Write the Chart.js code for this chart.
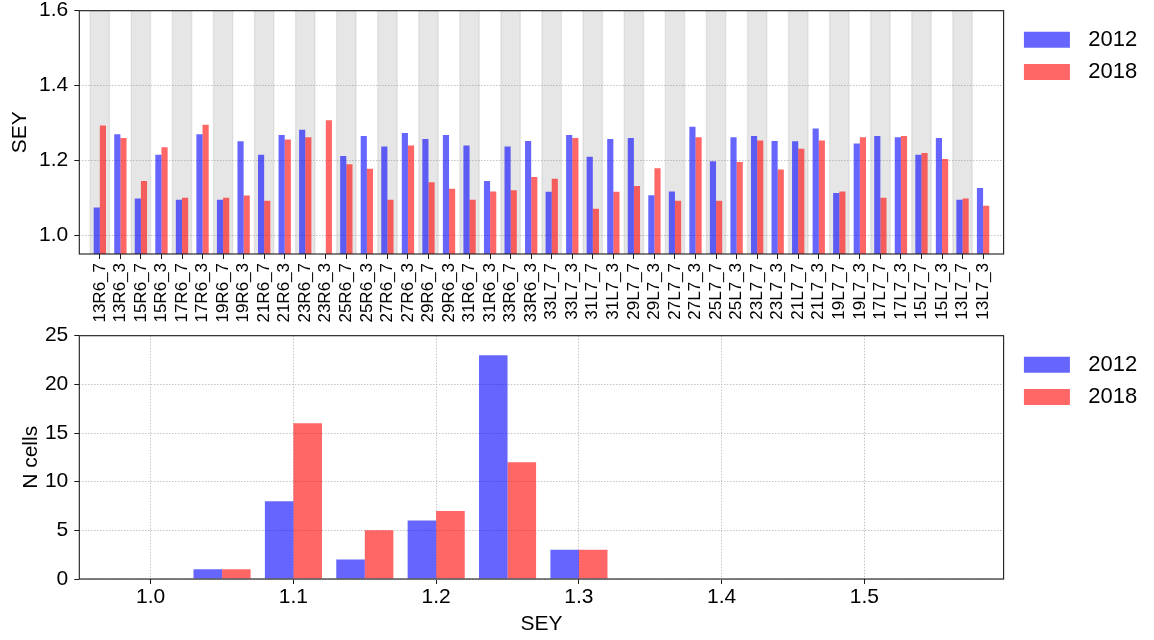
<!DOCTYPE html>
<html>
<head>
<meta charset="utf-8">
<script src="https://cdn.jsdelivr.net/npm/chart.js@4.4.1/dist/chart.umd.min.js"></script>
<style>
  html, body { margin: 0; padding: 0; background: #ffffff; }
  #wrap { position: relative; width: 1154px; height: 640px; overflow: hidden; }
  canvas { position: absolute; left: 0; }
  #sectorChart { top: 0; }
  #histChart { top: 315px; }
</style>
</head>
<body>
<div id="wrap">
  <canvas id="sectorChart" width="1154" height="335"></canvas>
  <canvas id="histChart" width="1154" height="325"></canvas>
</div>
<script>
// ---- data ----
const sectors = [
  '13R6_7', '13R6_3', '15R6_7', '15R6_3', '17R6_7', '17R6_3', '19R6_7', '19R6_3',
  '21R6_7', '21R6_3', '23R6_7', '23R6_3', '25R6_7', '25R6_3', '27R6_7', '27R6_3',
  '29R6_7', '29R6_3', '31R6_7', '31R6_3', '33R6_7', '33R6_3', '33L7_7', '33L7_3',
  '31L7_7', '31L7_3', '29L7_7', '29L7_3', '27L7_7', '27L7_3', '25L7_7', '25L7_3',
  '23L7_7', '23L7_3', '21L7_7', '21L7_3', '19L7_7', '19L7_3', '17L7_7', '17L7_3',
  '15L7_7', '15L7_3', '13L7_7', '13L7_3'
];

const sey2012 = [
  1.074, 1.270, 1.098, 1.215, 1.095, 1.270, 1.095, 1.251,
  1.215, 1.268, 1.282, null,  1.212, 1.265, 1.237, 1.273,
  1.257, 1.268, 1.240, 1.145, 1.237, 1.252, 1.116, 1.268,
  1.210, 1.257, 1.260, 1.107, 1.117, 1.290, 1.198, 1.262,
  1.265, 1.252, 1.251, 1.285, 1.113, 1.245, 1.265, 1.262,
  1.215, 1.260, 1.095, 1.126
];

const sey2018 = [
  1.293, 1.260, 1.145, 1.235, 1.100, 1.295, 1.100, 1.106,
  1.092, 1.256, 1.262, 1.307, 1.190, 1.178, 1.095, 1.240,
  1.142, 1.124, 1.095, 1.117, 1.120, 1.156, 1.151, 1.260,
  1.071, 1.116, 1.132, 1.179, 1.092, 1.262, 1.092, 1.196,
  1.253, 1.176, 1.231, 1.253, 1.117, 1.262, 1.100, 1.265,
  1.220, 1.204, 1.098, 1.079
];

const seyRange = [0.95, 1.6];
const seyTicks = [1.0, 1.2, 1.4, 1.6];

const binCenters = [1.05, 1.10, 1.15, 1.20, 1.25, 1.30];
const count2012 = [1, 8, 2, 6, 23, 3];
const count2018 = [1, 16, 5, 7, 12, 3];
const histSeyTicks = [1.0, 1.1, 1.2, 1.3, 1.4, 1.5];

// ---- styling ----
const BLUE = 'rgba(0, 0, 255, 0.6)';
const RED = 'rgba(255, 0, 0, 0.6)';
const SHADE = 'rgba(128, 128, 128, 0.2)';
const GRID = '#c4c4c4';
const INK = '#1a1a1a';
const TEXT_SIZE = 21;

Chart.defaults.font.family = "'Liberation Sans', Arial, Helvetica, sans-serif";
Chart.defaults.font.size = TEXT_SIZE;
Chart.defaults.color = '#000000';
Chart.defaults.animation = false;

// closed box around the plotting area
const axesFrame = {
  id: 'axesFrame',
  afterDatasetsDraw(chart) {
    const { ctx, chartArea: a } = chart;
    ctx.save();
    ctx.strokeStyle = INK;
    ctx.lineWidth = 1.1;
    ctx.strokeRect(a.left, a.top, a.right - a.left, a.bottom - a.top);
    ctx.restore();
  }
};

// narrow gap between the plot box and the legend
const legendGap = () => ({
  type: 'linear', axis: 'y', position: 'right', display: true,
  grid: { display: false }, border: { display: false }, ticks: { display: false },
  afterFit: s => { s.width = 10; }
});

const legendOptions = () => ({
  position: 'right',
  align: 'start',
  title: { display: true, text: '', font: { size: 1, lineHeight: 1 }, padding: { top: 0, bottom: 6.7 } },
  labels: {
    boxWidth: 46,
    boxHeight: 16,
    padding: 10.3,
    color: '#000',
    font: { size: 22 },
    generateLabels: chart => Chart.defaults.plugins.legend.labels.generateLabels(chart)
      .map(item => Object.assign(item, { text: '\u2004' + item.text, lineWidth: 0 })),
    filter: item => item.datasetIndex < 2
  }
});

const tickMarks = { tickLength: 5, tickColor: INK, tickWidth: 1 };

// ---- SEY per sector ----
new Chart(document.getElementById('sectorChart'), {
  type: 'bar',
  data: {
    datasets: [
      {
        label: '2012',
        data: sectors.map((s, i) => ({ x: i, y: sey2012[i] })),
        backgroundColor: BLUE, borderWidth: 0,
        categoryPercentage: 0.6, barPercentage: 1.0,
        order: 0, xAxisID: 'x', yAxisID: 'y'
      },
      {
        label: '2018',
        data: sectors.map((s, i) => ({ x: i, y: sey2018[i] })),
        backgroundColor: RED, borderWidth: 0,
        categoryPercentage: 0.6, barPercentage: 1.0,
        order: 0, xAxisID: 'x', yAxisID: 'y'
      },
      {
        label: 'shade',
        data: sectors.map((s, i) => ({ x: i, y: seyRange.slice() })).filter((d, i) => i % 2 === 0),
        backgroundColor: SHADE,
        borderColor: 'rgba(110, 110, 110, 0.14)',
        borderWidth: { left: 1, right: 1, top: 0, bottom: 0 },
        borderSkipped: false,
        grouped: false,
        categoryPercentage: 1.0, barPercentage: 1.0,
        order: 1, xAxisID: 'x', yAxisID: 'y'
      }
    ]
  },
  options: {
    responsive: false,
    animation: false,
    events: [],
    layout: { padding: { top: 10.7, right: 6.8, bottom: 0, left: 0 } },
    scales: {
      x: {
        type: 'linear', min: -1, max: sectors.length, offset: false,
        afterBuildTicks: s => { s.ticks = sectors.map((_, i) => ({ value: i })); },
        afterFit: s => { s.height = 81; },
        grid: Object.assign({ display: true, offset: false, drawOnChartArea: false, drawTicks: true }, tickMarks),
        border: { display: false },
        ticks: {
          autoSkip: false, minRotation: 90, maxRotation: 90, padding: 4,
          font: { size: 17 },
          callback: v => sectors[v]
        }
      },
      y: {
        type: 'linear', min: seyRange[0], max: seyRange[1],
        afterBuildTicks: s => { s.ticks = seyTicks.map(v => ({ value: v })); },
        afterFit: s => { s.width = 79.3; },
        grid: Object.assign({ color: GRID, lineWidth: 1, drawTicks: true, borderDash: [1.5, 1.5] }, tickMarks),
        border: { display: false, dash: [1.5, 1.5] },
        ticks: { padding: 6, font: { size: TEXT_SIZE, lineHeight: 0.2 }, callback: v => v.toFixed(1) },
        title: { display: true, text: 'SEY', font: { size: TEXT_SIZE }, padding: { top: 7.4, bottom: 0 } }
      },
      gap: legendGap()
    },
    plugins: {
      legend: legendOptions(),
      tooltip: { enabled: false }
    }
  },
  plugins: [axesFrame]
});

// ---- histogram of SEY ----
new Chart(document.getElementById('histChart'), {
  type: 'bar',
  data: {
    datasets: [
      {
        label: '2012',
        data: binCenters.map((c, i) => ({ x: c, y: count2012[i] })),
        backgroundColor: BLUE, borderWidth: 0,
        categoryPercentage: 0.8, barPercentage: 1.0,
        xAxisID: 'x', yAxisID: 'y'
      },
      {
        label: '2018',
        data: binCenters.map((c, i) => ({ x: c, y: count2018[i] })),
        backgroundColor: RED, borderWidth: 0,
        categoryPercentage: 0.8, barPercentage: 1.0,
        xAxisID: 'x', yAxisID: 'y'
      }
    ]
  },
  options: {
    responsive: false,
    animation: false,
    events: [],
    layout: { padding: { top: 20.7, right: 6.8, bottom: 0, left: 0 } },
    scales: {
      x: {
        type: 'linear', min: 0.95, max: 1.5975, offset: false,
        afterBuildTicks: s => { s.ticks = histSeyTicks.map(v => ({ value: v })); },
        afterFit: s => { s.height = 61; },
        grid: Object.assign({ color: GRID, lineWidth: 1, offset: false, drawTicks: true, borderDash: [1.5, 1.5] }, tickMarks),
        border: { display: false, dash: [1.5, 1.5] },
        ticks: { padding: 0.2, font: { size: TEXT_SIZE }, callback: v => v.toFixed(1) },
        title: { display: true, text: 'SEY', font: { size: TEXT_SIZE }, padding: { top: 0, bottom: 3.4 } }
      },
      y: {
        type: 'linear', min: 0, max: 25,
        ticks: { stepSize: 5, padding: 6, font: { size: TEXT_SIZE, lineHeight: 0.2 } },
        afterFit: s => { s.width = 79.3; },
        grid: Object.assign({ color: GRID, lineWidth: 1, drawTicks: true, borderDash: [1.5, 1.5] }, tickMarks),
        border: { display: false, dash: [1.5, 1.5] },
        title: { display: true, text: 'N cells', font: { size: TEXT_SIZE }, padding: { top: 18.4, bottom: 0 } }
      },
      gap: legendGap()
    },
    plugins: {
      legend: legendOptions(),
      tooltip: { enabled: false }
    }
  },
  plugins: [axesFrame]
});
</script>
</body>
</html>
